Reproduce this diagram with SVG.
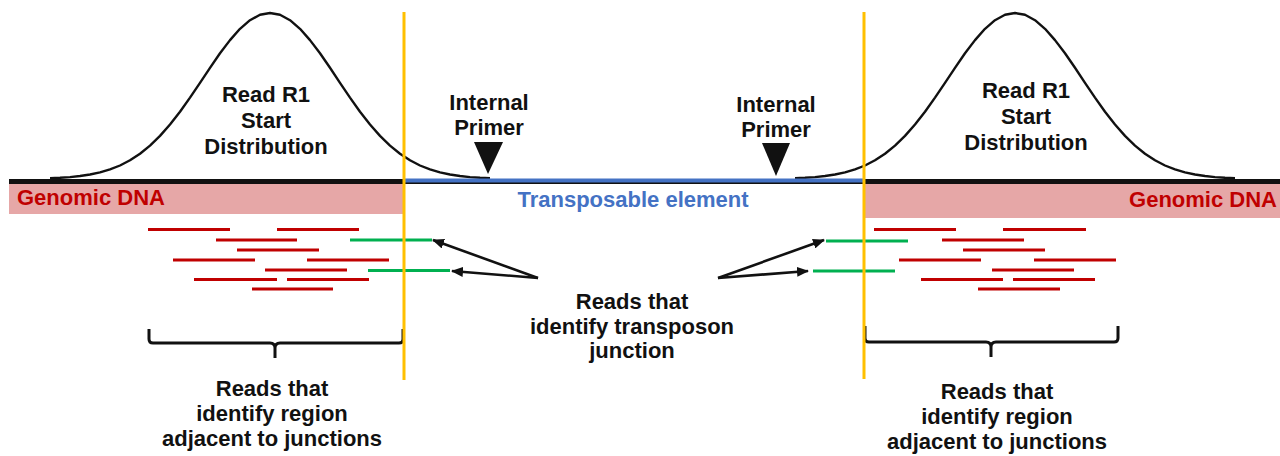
<svg xmlns="http://www.w3.org/2000/svg" xmlns:xlink="http://www.w3.org/1999/xlink" width="1280" height="456" viewBox="0 0 1280 456">
  <style>
    .lbl { font-family: "Liberation Sans", Arial, sans-serif; font-weight: bold; font-size: 22px; fill: #111; text-anchor: middle; }
    .dna { font-family: "Liberation Sans", Arial, sans-serif; font-weight: bold; font-size: 22px; fill: #c00000; }
    .te { font-family: "Liberation Sans", Arial, sans-serif; font-weight: bold; font-size: 22px; fill: #4472c4; text-anchor: middle; }
    .bell { fill: none; stroke: #111; stroke-width: 2.4; stroke-linejoin: round; }
    .read { stroke: #c00000; stroke-width: 3.2; }
    .junc { stroke: #00b050; stroke-width: 3.2; }
    .brace { fill: none; stroke: #111; stroke-width: 3; stroke-linejoin: round; }
    .arrow { stroke: #111; stroke-width: 2.6; fill: none; marker-end: url(#head); }
    .border { stroke: #ffc000; stroke-width: 3; }
  </style>
  <defs>
    <!-- Gaussian start-position curve, centred on x = 0 -->
    <path id="bell" d="M-220,178.2 L-210,177.8 L-200,177.1 L-190,176.0 L-180,174.5 L-170,172.4 L-160,169.4 L-150,165.5 L-140,160.3 L-130,153.7 L-120,145.6 L-110,135.9 L-100,124.5 L-90,111.7 L-80,97.6 L-70,82.8 L-60,67.8 L-50,53.3 L-40,40.1 L-30,28.8 L-20,20.2 L-10,14.8 L0,13 L10,14.8 L20,20.2 L30,28.8 L40,40.1 L50,53.3 L60,67.8 L70,82.8 L80,97.6 L90,111.7 L100,124.5 L110,135.9 L120,145.6 L130,153.7 L140,160.3 L150,165.5 L160,169.4 L170,172.4 L180,174.5 L190,176.0 L200,177.1 L210,177.8 L220,178.2"/>
    <marker id="head" viewBox="0 0 12 10" refX="11" refY="5" markerWidth="12" markerHeight="10" markerUnits="userSpaceOnUse" orient="auto">
      <path d="M0,0 L12,5 L0,10 Z" fill="#111"/>
    </marker>
  </defs>

  <rect width="1280" height="456" fill="#ffffff"/>

  <!-- genomic DNA bands -->
  <g id="genomic-left">
    <rect x="9" y="184" width="395" height="30" fill="#e6a7a7"/>
    <text class="dna" x="17" y="205">Genomic DNA</text>
  </g>
  <g id="genomic-right">
    <rect x="864" y="184" width="416" height="34" fill="#e6a7a7"/>
    <text class="dna" x="1277" y="207" text-anchor="end">Genomic DNA</text>
  </g>

  <!-- read start distributions -->
  <g id="dist-left">
    <use xlink:href="#bell" href="#bell" x="270" class="bell"/>
    <text class="lbl" x="266" y="102">Read R1</text>
    <text class="lbl" x="266" y="128">Start</text>
    <text class="lbl" x="266" y="154">Distribution</text>
  </g>
  <g id="dist-right">
    <use xlink:href="#bell" href="#bell" x="1015" class="bell"/>
    <text class="lbl" x="1026" y="98">Read R1</text>
    <text class="lbl" x="1026" y="124">Start</text>
    <text class="lbl" x="1026" y="150">Distribution</text>
  </g>

  <!-- chromosome backbone and transposable element -->
  <g id="backbone">
    <line x1="9" y1="181.5" x2="1280" y2="181.5" stroke="#111" stroke-width="5"/>
    <line x1="404" y1="180.5" x2="864" y2="180.5" stroke="#4472c4" stroke-width="4"/>
    <text class="te" x="633" y="207">Transposable element</text>
  </g>

  <!-- internal primers -->
  <g id="primer-left">
    <text class="lbl" x="489" y="110">Internal</text>
    <text class="lbl" x="489" y="135">Primer</text>
    <polygon points="474,142 503,142 488,174" fill="#111"/>
  </g>
  <g id="primer-right">
    <text class="lbl" x="776" y="112">Internal</text>
    <text class="lbl" x="776" y="137">Primer</text>
    <polygon points="762,143 790,143 776,176" fill="#111"/>
  </g>

  <!-- sequencing reads, left flank -->
  <g id="reads-left">
    <line class="read" x1="148" y1="229.5" x2="230" y2="229.5"/>
    <line class="read" x1="277" y1="229.5" x2="359" y2="229.5"/>
    <line class="read" x1="216" y1="240" x2="297" y2="240"/>
    <line class="read" x1="237" y1="250" x2="319" y2="250"/>
    <line class="read" x1="173" y1="260" x2="255" y2="260"/>
    <line class="read" x1="307" y1="260" x2="389" y2="260"/>
    <line class="read" x1="265" y1="270" x2="347" y2="270"/>
    <line class="read" x1="194" y1="279.5" x2="277" y2="279.5"/>
    <line class="read" x1="287" y1="279.5" x2="369" y2="279.5"/>
    <line class="read" x1="252" y1="289" x2="333" y2="289"/>
    <line class="junc" x1="350" y1="240" x2="432" y2="240"/>
    <line class="junc" x1="368" y1="270.5" x2="450" y2="270.5"/>
  </g>

  <!-- sequencing reads, right flank -->
  <g id="reads-right">
    <line class="read" x1="874" y1="229.5" x2="956" y2="229.5"/>
    <line class="read" x1="1003" y1="229.5" x2="1086" y2="229.5"/>
    <line class="read" x1="942" y1="240" x2="1024" y2="240"/>
    <line class="read" x1="963" y1="250" x2="1045" y2="250"/>
    <line class="read" x1="899" y1="260" x2="981" y2="260"/>
    <line class="read" x1="1034" y1="260" x2="1116" y2="260"/>
    <line class="read" x1="992" y1="270" x2="1074" y2="270"/>
    <line class="read" x1="921" y1="279.5" x2="1003" y2="279.5"/>
    <line class="read" x1="1013" y1="279.5" x2="1095" y2="279.5"/>
    <line class="read" x1="978" y1="289" x2="1060" y2="289"/>
    <line class="junc" x1="826" y1="241" x2="908" y2="241"/>
    <line class="junc" x1="813" y1="271" x2="895" y2="271"/>
  </g>

  <!-- pointers to junction reads -->
  <g id="connectors">
    <line class="arrow" x1="538" y1="278" x2="433" y2="240"/>
    <line class="arrow" x1="538" y1="278" x2="452" y2="271"/>
    <line class="arrow" x1="718" y1="278" x2="824" y2="240"/>
    <line class="arrow" x1="718" y1="278" x2="808" y2="271"/>
  </g>

  <g id="junction-label">
    <text class="lbl" x="632" y="309">Reads that</text>
    <text class="lbl" x="632" y="334">identify transposon</text>
    <text class="lbl" x="632" y="358">junction</text>
  </g>

  <!-- flanking region braces -->
  <g id="brace-left">
    <path class="brace" d="M149,329 V339 Q149,343 153,343 H270 Q275,343 275,348 V358 M275,348 Q275,343 280,343 H399 Q403,343 403,339 V329"/>
    <text class="lbl" x="272" y="396">Reads that</text>
    <text class="lbl" x="272" y="421">identify region</text>
    <text class="lbl" x="272" y="446">adjacent to junctions</text>
  </g>
  <g id="brace-right">
    <path class="brace" d="M865,326 V338 Q865,342 869,342 H986 Q991,342 991,347 V357 M991,347 Q991,342 996,342 H1114 Q1118,342 1118,338 V326"/>
    <text class="lbl" x="997" y="399">Reads that</text>
    <text class="lbl" x="997" y="424">identify region</text>
    <text class="lbl" x="997" y="449">adjacent to junctions</text>
  </g>

  <!-- insertion boundaries -->
  <g id="boundaries">
    <line class="border" x1="404" y1="12" x2="404" y2="380"/>
    <line class="border" x1="864" y1="12" x2="864" y2="379"/>
  </g>
</svg>
